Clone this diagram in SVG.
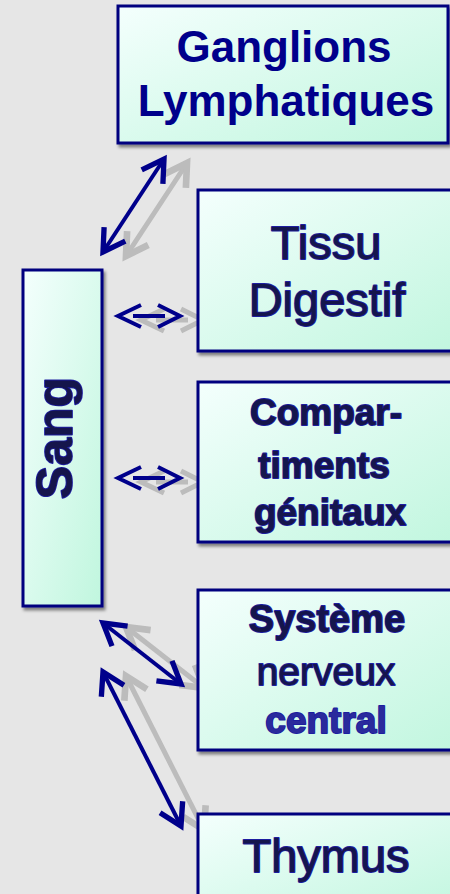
<svg xmlns="http://www.w3.org/2000/svg" width="450" height="894" viewBox="0 0 450 894">
  <defs>
    <linearGradient id="boxFill" x1="0" y1="0" x2="1" y2="1">
      <stop offset="0" stop-color="#f4fffd"/>
      <stop offset="1" stop-color="#c0f6de"/>
    </linearGradient>
    <filter id="boxShadow" x="-10%" y="-10%" width="130%" height="130%">
      <feDropShadow dx="2" dy="3" stdDeviation="1.8" flood-color="#000" flood-opacity="0.45"/>
    </filter>
    <filter id="soft" x="-20%" y="-20%" width="140%" height="140%">
      <feGaussianBlur stdDeviation="0.6"/>
    </filter>
    <marker id="head" markerUnits="userSpaceOnUse" orient="auto-start-reverse" refX="0" refY="0" markerWidth="40" markerHeight="40" viewBox="-25 -15 30 30" overflow="visible">
      <path d="M-16,-9.5 L0,0 L-16,9.5" fill="none" stroke="#00008b" stroke-width="4"/>
    </marker>
    <marker id="headGray" markerUnits="userSpaceOnUse" orient="auto-start-reverse" refX="0" refY="0" markerWidth="40" markerHeight="40" viewBox="-25 -15 30 30" overflow="visible">
      <path d="M-16,-9.5 L0,0 L-16,9.5" fill="none" stroke="#bcbcbc" stroke-width="5"/>
    </marker>
  </defs>
  <style>
    .box { fill: url(#boxFill); stroke: #00007f; stroke-width: 3; filter: url(#boxShadow); }
    .lbl { font-family: "Liberation Sans", Arial, sans-serif; text-anchor: middle; fill: #15154c; stroke: #1d1da0; stroke-width: 1.8; paint-order: stroke fill; stroke-linejoin: round; }
    .title { fill: #00008b; stroke: none; font-weight: bold; }
    .b { font-weight: bold; }
    .navy { fill: none; stroke: #00008b; stroke-width: 4; }
    .gray { fill: none; stroke: #bcbcbc; stroke-width: 5; }
  </style>

  <rect width="450" height="894" fill="#e6e6e6"/>

  <!-- connectors: grey shadow copies first, navy arrows on top -->
  <g id="connectors">
    <g id="shadows" filter="url(#soft)" transform="translate(23,4)">
      <line class="gray" x1="103" y1="252" x2="164" y2="159" marker-start="url(#headGray)" marker-end="url(#headGray)"/>
      <path class="gray" d="M141,305 L118,316 L141,327 M158,305 L180,316 L158,327 M133,316 H165"/>
      <path class="gray" d="M141,467 L118,478 L141,489 M158,467 L180,478 L158,489 M133,478 H165"/>
      <line class="gray" x1="103" y1="623" x2="181" y2="684" marker-start="url(#headGray)" marker-end="url(#headGray)"/>
      <line class="gray" x1="103" y1="672" x2="181" y2="826" marker-start="url(#headGray)" marker-end="url(#headGray)"/>
    </g>
    <line class="navy" x1="103" y1="252" x2="164" y2="159" marker-start="url(#head)" marker-end="url(#head)"/>
    <path class="navy" d="M141,305 L118,316 L141,327 M158,305 L180,316 L158,327 M133,316 H165"/>
    <path class="navy" d="M141,467 L118,478 L141,489 M158,467 L180,478 L158,489 M133,478 H165"/>
    <line class="navy" x1="103" y1="623" x2="181" y2="684" marker-start="url(#head)" marker-end="url(#head)"/>
    <line class="navy" x1="103" y1="672" x2="181" y2="826" marker-start="url(#head)" marker-end="url(#head)"/>
  </g>

  <g id="sang">
    <rect class="box" x="23" y="270" width="79" height="336"/>
    <text class="lbl b" font-size="50" transform="translate(72,438) rotate(-90)">Sang</text>
  </g>

  <g id="ganglions">
    <rect class="box" x="118" y="6" width="330" height="137"/>
    <text class="lbl title" font-size="44" x="284" y="62">Ganglions</text>
    <text class="lbl title" font-size="44" x="286" y="116">Lymphatiques</text>
  </g>

  <g id="tissu">
    <rect class="box" x="198" y="190" width="270" height="161"/>
    <text class="lbl" font-size="47" x="326" y="259">Tissu</text>
    <text class="lbl" font-size="47" x="327" y="316">Digestif</text>
  </g>

  <g id="compartiments">
    <rect class="box" x="198" y="382" width="270" height="160"/>
    <text class="lbl b" font-size="37" x="326" y="425">Compar-</text>
    <text class="lbl b" font-size="37" x="324" y="478">timents</text>
    <text class="lbl b" font-size="37" x="330" y="525">génitaux</text>
  </g>

  <g id="systeme">
    <rect class="box" x="198" y="590" width="270" height="160"/>
    <text class="lbl b" font-size="38" x="327" y="632">Système</text>
    <text class="lbl" font-size="39" x="326" y="685">nerveux</text>
    <text class="lbl b" font-size="37" x="326" y="733" style="fill:#2a2a9c">central</text>
  </g>

  <g id="thymus">
    <rect class="box" x="198" y="814" width="270" height="100"/>
    <text class="lbl" font-size="47" x="326" y="872">Thymus</text>
  </g>
</svg>
